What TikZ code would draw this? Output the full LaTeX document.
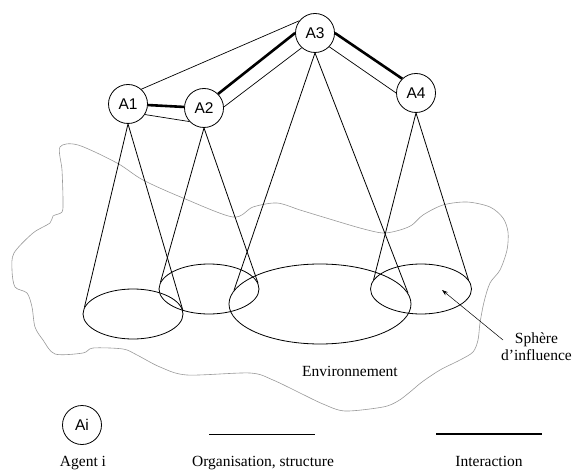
\documentclass[tikz,border=0pt]{standalone}
\usepackage{fontspec}
\setmainfont{Liberation Serif}
\newfontfamily\agentfont{Liberation Sans}
\usetikzlibrary{shapes.geometric,arrows.meta}
\begin{document}
\begin{tikzpicture}[x=1pt,y=-1pt,
  agent/.style={circle,draw,line width=0.8pt,minimum size=39pt,inner sep=0pt,
    font=\agentfont\fontsize{15.5}{17}\selectfont},
  sphere/.style={ellipse,draw,line width=0.8pt,inner sep=0pt},
  org/.style={line width=0.7pt},
  inter/.style={line width=2.6pt},
  cone/.style={line width=0.8pt},
  envline/.style={gray!80,line width=0.6pt},
  caption/.style={font=\fontsize{15.5}{17}\selectfont,inner sep=0pt}]
\useasboundingbox (0,0) rectangle (572,470);

% environment outline
\draw[envline] plot[smooth cycle, tension=0.5] coordinates {
  (60,147) (78,145) (117,163) (143,180) (183,198) (233,217) (253,207) (277,203)
  (300,210) (323,217) (360,228) (383,233) (400,230) (412,225) (423,215) (443,205)
  (467,202) (490,207) (503,218) (508,232) (507,250) (500,270) (490,283) (484,302)
  (480,323) (478,340) (473,352) (460,360) (440,370) (422,382) (410,392) (398,401)
  (383,407) (345,411) (323,404) (300,393) (273,380) (250,373) (187,375) (160,367)
  (137,355) (123,349) (93,348) (83,353) (55,354) (43,340) (35,327) (32,307)
  (27,293) (15,287) (12,270) (14,253) (33,233) (50,223) (53,216) (62,212)
  (63,200) (62,170)};

% agents
\node[agent] (A1) at (128,104) {A1};
\node[agent] (A2) at (204,108) {A2};
\node[agent] (A3) at (315,33) {A3};
\node[agent] (A4) at (416,93) {A4};

% spheres of influence
\node[sphere,minimum width=100pt,minimum height=50pt] (S1) at (133,314) {};
\node[sphere,minimum width=100pt,minimum height=50pt] (S2) at (209,289) {};
\node[sphere,minimum width=182pt,minimum height=80pt] (S3) at (320,304) {};
\node[sphere,minimum width=101pt,minimum height=50pt] (S4) at (421,289) {};

% cones from each agent to its sphere
\draw[cone] (S1.172) -- (A1.south) -- (S1.4);
\draw[cone] (S2.172) -- (A2.south) -- (S2.7);
\draw[cone] (S3.171) -- (A3.south) -- (S3.7);
\draw[cone] (S4.169) -- (A4.south) -- (S4.11);

% organisation links
\draw[org] (A1.48) -- (A3.142);
\draw[org] (A1.-32) -- (A2.223);
\draw[org] (A2.3) -- (A3.228);
\draw[org] (A3.-44) -- (A4.180);

% interactions
\draw[inter] (A1) -- (A2);
\draw[inter] (A2.45) -- (A3.180);
\draw[inter] (A3.0) -- (A4.134);

% labels
\node[caption] (env) at (350,371) {Environnement};
\node[caption,align=center] (sph) at (536.5,347) {Sphère\\d’influence};
\coordinate (sphtail) at (503,340);
\coordinate (sphtip) at (442,290);
\draw[line width=0.5pt,-{Stealth[length=6pt,width=4pt]}] (sphtail) -- (sphtip);

% legend
\node[agent] (Ai) at (82,425) {Ai};
\node[caption,anchor=base] (agentcap) at (83,466) {Agent i};
\coordinate (orgL) at (209,434);
\coordinate (orgR) at (315,434);
\draw[org] (orgL) -- (orgR);
\node[caption,anchor=base] (orgcap) at (263,466) {Organisation, structure};
\coordinate (intL) at (436,434);
\coordinate (intR) at (542,434);
\draw[inter] (intL) -- (intR);
\node[caption,anchor=base] (intcap) at (489,466) {Interaction};
\end{tikzpicture}
\end{document}
